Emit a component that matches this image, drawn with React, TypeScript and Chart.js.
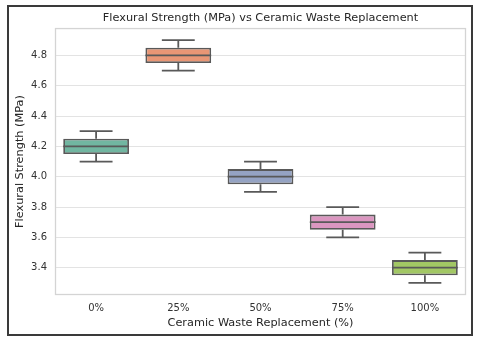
import React, { useEffect, useRef } from "react";
import { Chart, registerables } from "chart.js";

Chart.register(...registerables);

const categories = ["0%", "25%", "50%", "75%", "100%"];
const whiskerLow = [4.1, 4.7, 3.9, 3.6, 3.3];
const q1 = [4.15, 4.75, 3.95, 3.65, 3.35];
const median = [4.2, 4.8, 4.0, 3.7, 3.4];
const q3 = [4.25, 4.85, 4.05, 3.75, 3.45];
const whiskerHigh = [4.3, 4.9, 4.1, 3.8, 3.5];
const yTicks = [3.4, 3.6, 3.8, 4.0, 4.2, 4.4, 4.6, 4.8];
const boxColors = ["#71b6a1", "#e99675", "#95a3c3", "#db96c0", "#a2c764"];

const LINE = "#595959";
const FONT = "'DejaVu Sans', sans-serif";

const boxPlugin = {
  id: "boxExtras",
  beforeDatasetsDraw(chart: any) {
    const { ctx, chartArea } = chart;
    ctx.save();
    ctx.strokeStyle = "#d4d4d4";
    ctx.lineWidth = 1.3;
    ctx.strokeRect(chartArea.left + 0.5, chartArea.top + 0.5, chartArea.right - chartArea.left - 1, chartArea.bottom - chartArea.top - 1);
    ctx.restore();
  },
  afterDatasetsDraw(chart: any) {
    const { ctx } = chart;
    const meta = chart.getDatasetMeta(0);
    const y = chart.scales.y;
    ctx.save();
    ctx.strokeStyle = LINE;
    ctx.lineWidth = 1.8;
    meta.data.forEach((bar: any, i: number) => {
      const cx = bar.x;
      const half = bar.width / 2;
      const cap = half / 2;
      const yLo = y.getPixelForValue(whiskerLow[i]);
      const yQ1 = y.getPixelForValue(q1[i]);
      const yMed = y.getPixelForValue(median[i]);
      const yQ3 = y.getPixelForValue(q3[i]);
      const yHi = y.getPixelForValue(whiskerHigh[i]);
      ctx.beginPath();
      ctx.moveTo(cx, yQ3);
      ctx.lineTo(cx, yHi);
      ctx.moveTo(cx - cap, yHi);
      ctx.lineTo(cx + cap, yHi);
      ctx.moveTo(cx, yQ1);
      ctx.lineTo(cx, yLo);
      ctx.moveTo(cx - cap, yLo);
      ctx.lineTo(cx + cap, yLo);
      ctx.moveTo(cx - half, yMed);
      ctx.lineTo(cx + half, yMed);
      ctx.stroke();
    });
    ctx.restore();
  },
};

export default function App() {
  const ref = useRef<HTMLCanvasElement | null>(null);
  useEffect(() => {
    if (!ref.current) return;
    const chart = new Chart(ref.current, {
      type: "bar",
      data: {
        labels: categories,
        datasets: [
          {
            data: q1.map((v, i) => [v, q3[i]]) as any,
            backgroundColor: boxColors,
            borderColor: LINE,
            borderWidth: 1.8,
            borderSkipped: false,
            barPercentage: 0.8,
            categoryPercentage: 1,
          },
        ],
      },
      options: {
        responsive: false,
        animation: false,
        devicePixelRatio: 1,
        layout: { padding: { left: 0, right: 14, top: 0, bottom: 0 } },
        plugins: {
          legend: { display: false },
          tooltip: { enabled: false },
          title: {
            display: true,
            fullSize: false,
            text: "Flexural Strength (MPa) vs Ceramic Waste Replacement",
            color: "#262626",
            font: { family: FONT, size: 11.3, weight: "normal" },
            padding: { top: 11.5, bottom: 3 },
          },
        },
        scales: {
          x: {
            grid: { display: false, drawTicks: false },
            border: { display: false },
            ticks: { color: "#333333", font: { family: FONT, size: 10 }, padding: 7 },
            title: {
              display: true,
              text: "Ceramic Waste Replacement (%)",
              color: "#262626",
              font: { family: FONT, size: 11.3 },
              padding: { top: 0, bottom: 12.5 },
            },
            afterFit(scale: any) {
              scale.height = 47;
            },
          },
          y: {
            min: 3.22,
            max: 4.98,
            grid: { color: "#e3e3e3", lineWidth: 1, drawTicks: false },
            border: { display: false },
            ticks: {
              color: "#333333",
              font: { family: FONT, size: 10 },
              padding: 8,
              callback: (v: any) => Number(v).toFixed(1),
            },
            afterBuildTicks(scale: any) {
              scale.ticks = yTicks.map((v) => ({ value: v }));
            },
            title: {
              display: true,
              text: "Flexural Strength (MPa)",
              color: "#262626",
              font: { family: FONT, size: 11.3 },
              padding: { top: 13.5, bottom: 0 },
            },
            afterFit(scale: any) {
              scale.width = 55;
            },
          },
        },
      },
      plugins: [boxPlugin],
    } as any);
    return () => chart.destroy();
  }, []);
  return (
    <div style={{ position: "fixed", left: 0, top: 0, width: 480, height: 342, background: "#fff" }}>
      <canvas ref={ref} width={480} height={342} style={{ display: "block", width: 480, height: 342 }} />
      <div
        style={{
          position: "absolute",
          left: 7,
          top: 5,
          width: 466,
          height: 331,
          boxSizing: "border-box",
          border: "2px solid #3a3a3a",
          pointerEvents: "none",
        }}
      />
    </div>
  );
}
